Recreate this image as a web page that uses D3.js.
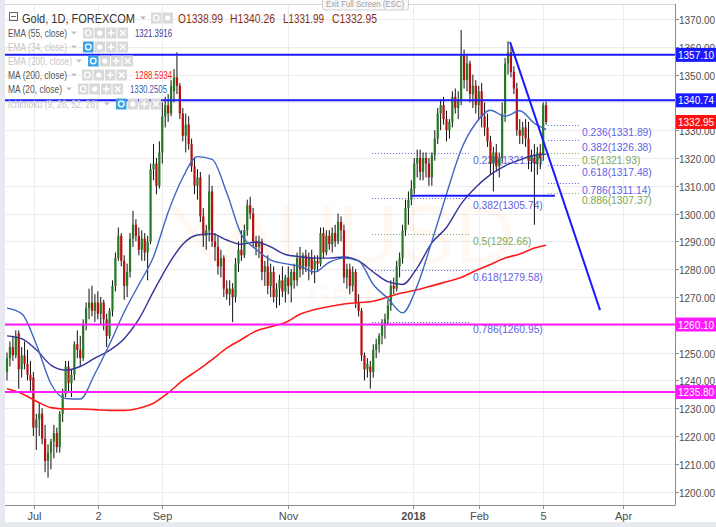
<!DOCTYPE html>
<html><head><meta charset="utf-8">
<script src="https://cdn.jsdelivr.net/npm/d3@7"></script>
<style>
body{margin:0;background:#fff;}
svg{display:block;font-family:"Liberation Sans",Arial,sans-serif;}
</style></head><body><svg id="c" width="716" height="527"></svg>
<script>
// ---------- DATA ----------
const open = [1243,1248,1252,1249,1257,1244,1249,1246,1242,1241,
1223,1226,1228,1219,1211,1214,1218,1221,1216,1228,
1235,1245,1239,1242,1253,1251,1248,1260,1266,1268,
1265,1268,1264,1268,1262,1256,1265,1274,1284,1292,
1283,1274,1279,1291,1296,1292,1287,1291,1286,1290,
1316,1318,1310,1322,1335,1339,1336,1344,1349,1346,
1336,1328,1332,1325,1317,1310,1313,1299,1292,1294,
1308,1290,1288,1281,1284,1273,1271,1273,1270,1282,
1287,1285,1294,1303,1300,1290,1288,1290,1279,1281,
1274,1279,1270,1273,1276,1272,1277,1274,1279,1276,
1284,1280,1285,1281,1284,1280,1283,1282,1293,1286,
1292,1289,1293,1290,1297,1294,1277,1280,1274,1279,
1268,1265,1249,1244,1245,1243,1251,1253,1256,1260,
1262,1267,1274,1273,1281,1284,1294,1302,1305,1309,
1318,1320,1315,1320,1318,1313,1321,1327,1336,1339,
1334,1330,1333,1342,1338,1341,1357,1348,1354,1343,
1346,1339,1344,1335,1331,1326,1318,1322,1317,1320,
1336,1354,1358,1351,1345,1330,1328,1331,1327,1319,
1320,1318,1322,1321,1338.99];
const high = [1250,1254,1256,1258,1258,1252,1254,1251,1247,1243,
1228,1232,1230,1224,1217,1219,1224,1223,1229,1237,
1247,1247,1244,1254,1258,1256,1262,1268,1273,1274,
1271,1272,1270,1269,1264,1266,1276,1286,1295,1293,
1285,1282,1293,1301,1298,1295,1294,1293,1292,1318,
1325,1320,1326,1340,1342,1343,1348,1352,1358,1347,
1338,1336,1335,1327,1320,1316,1315,1302,1296,1314,
1310,1293,1292,1287,1285,1276,1276,1275,1284,1290,
1294,1296,1305,1306,1302,1292,1292,1291,1283,1285,
1282,1281,1275,1278,1281,1278,1281,1280,1282,1286,
1288,1286,1287,1286,1287,1285,1285,1295,1295,1294,
1294,1295,1296,1300,1299,1296,1282,1282,1281,1280,
1271,1266,1250,1248,1247,1253,1255,1257,1262,1264,
1269,1276,1277,1283,1286,1296,1305,1308,1312,1320,
1323,1323,1322,1322,1320,1322,1330,1338,1341,1342,
1337,1334,1344,1345,1344,1366,1359,1357,1355,1350,
1348,1346,1347,1340,1336,1328,1324,1325,1322,1340,
1356,1362,1360,1353,1347,1334,1333,1334,1333,1323,
1325,1324,1325,1340,1340.26];
const low = [1240,1245,1247,1248,1237,1241,1244,1240,1236,1220,
1215,1220,1217,1207,1205,1208,1212,1214,1214,1225,
1234,1236,1234,1240,1248,1245,1247,1258,1262,1263,
1261,1262,1260,1258,1252,1255,1263,1272,1283,1281,
1269,1270,1277,1288,1290,1285,1283,1283,1276,1289,
1312,1307,1309,1318,1331,1333,1335,1340,1343,1334,
1326,1322,1323,1315,1307,1305,1297,1288,1287,1290,
1288,1283,1278,1277,1270,1269,1267,1261,1268,1279,
1283,1284,1292,1298,1288,1285,1284,1276,1274,1271,
1270,1268,1266,1267,1270,1268,1271,1268,1273,1274,
1277,1278,1279,1276,1278,1275,1279,1281,1284,1285,
1287,1286,1288,1289,1290,1275,1273,1271,1272,1266,
1263,1247,1240,1241,1237,1241,1248,1250,1253,1255,
1260,1265,1271,1272,1277,1282,1292,1296,1303,1307,
1313,1312,1312,1313,1310,1310,1319,1325,1330,1332,
1326,1327,1331,1336,1334,1339,1345,1344,1340,1338,
1336,1334,1331,1328,1324,1314,1308,1315,1313,1318,
1333,1350,1349,1343,1328,1325,1325,1324,1316,1315,
1296,1314,1316,1319,1331.99];
const close = [1248,1252,1249,1256,1244,1249,1246,1242,1240,1223,
1226,1228,1219,1211,1214,1218,1221,1216,1228,1235,
1245,1239,1242,1253,1251,1248,1260,1266,1268,1265,
1268,1264,1268,1262,1256,1265,1274,1284,1292,1283,
1274,1279,1291,1296,1292,1287,1291,1286,1290,1316,
1318,1310,1322,1335,1339,1336,1346,1349,1346,1336,
1328,1332,1325,1317,1310,1313,1299,1292,1294,1308,
1290,1288,1281,1284,1273,1271,1273,1270,1282,1287,
1285,1294,1303,1300,1290,1288,1290,1279,1281,1274,
1279,1270,1273,1276,1272,1277,1274,1279,1276,1284,
1280,1285,1281,1284,1280,1283,1282,1293,1286,1292,
1289,1293,1290,1297,1294,1277,1280,1274,1279,1268,
1265,1249,1244,1246,1243,1251,1253,1256,1260,1262,
1267,1274,1273,1281,1284,1294,1302,1305,1309,1318,
1320,1315,1320,1318,1313,1321,1327,1336,1339,1334,
1330,1333,1342,1338,1341,1357,1348,1354,1343,1346,
1339,1344,1335,1331,1326,1318,1322,1317,1320,1336,
1354,1358,1351,1345,1330,1328,1331,1327,1319,1321,
1318,1322,1320,1339,1332.95];

const maIndex = [0,5,10,15,20,25,30,35,40,45,50,55,60,65,70,75,80,85,90,95,100,105,110,115,120,125,130,135,140,145,150,155,160,165,170,175,180,184];
const ma20  = [1266,1264,1253,1238.8,1233.5,1233.3,1242.4,1253,1264.6,1274.5,1284.5,1300.5,1313,1320.5,1319.5,1307.5,1292.5,1287.2,1283.3,1282,1281,1279,1282.5,1284,1283,1274.5,1269.5,1264.3,1274,1290,1307,1323,1332.5,1337.2,1335,1337,1332.5,1330.25];
const ema55 = [1256,1255,1251,1245.5,1243.7,1245,1248,1250.8,1255,1262,1272,1281.5,1289,1292.3,1292.7,1290.5,1289,1289.8,1288,1285.3,1284.5,1284,1284,1284.4,1283,1279,1275.5,1274.5,1280.5,1289.5,1295,1303.5,1309.5,1314,1317.2,1319.3,1321,1321.4];
const ma200 = [1237,1235.3,1232.5,1230.2,1229.7,1229.7,1229.5,1229.2,1229.2,1230,1231.8,1235.5,1240,1243.6,1247.5,1251.6,1254.7,1257.8,1259.3,1260.8,1263.8,1265.5,1266.6,1267.5,1268,1268.5,1270,1271.5,1272.6,1274,1275.5,1277,1279.5,1281.7,1284,1285.5,1287.6,1288.6];

const priceTicks = [1200,1210,1220,1230,1240,1250,1260,1270,1280,1290,1300,1310,1320,1330,1340,1350,1360,1370];
const dateLabels = ["Jul","2","Sep","Nov","2018","Feb","5","Apr"];
const dateIndex  = [9.2,31.1,52.9,95.9,138.6,161.1,182.9,210.2];

const levelPrices = [1357.10,1340.74,1260.10,1235.80];
const levelNames  = ["1357.10","1340.74","1260.10","1235.80"];
const lastPrice = 1332.95;

const fibAName  = ["0.236","0.382","0.5","0.618","0.786"];
const fibAPrice = [1321.92,1305.74,1292.66,1279.58,1260.95];
const fibARange = [124.6,158];
const fibBName  = ["0.236","0.382","0.5","0.618","0.786","0.886"];
const fibBPrice = [1331.89,1326.38,1321.93,1317.48,1311.14,1307.37];
const fibBRange = [184.6,195.2];

const trendIdx = [171.7,202.4], trendPrice = [1361.7,1265.3];
const supportIdx = [138.2,187], supportPrice = [1306.4,1306.4];

// ---------- STYLE ----------
const BLUE="#1a1aff", MAG="#ff1aff", GREEN_C="#267a26", RED_C="#b80f0f";
const FIB_BLUE="#5f5fe6", FIB_GREEN="#7aa95a";

const svg = d3.select("#c");
const x = d3.scaleLinear().domain([0,228]).range([7,675.04]);
const y = d3.scaleLinear().domain([1200,1370]).range([491.6,19]);
const L=5,R=675,T=4,B=505;

svg.append("rect").attr("width",716).attr("height",527).attr("fill","#fff");
svg.append("rect").attr("x",0).attr("y",0).attr("width",L).attr("height",527).attr("fill","#e6eaee");
svg.append("rect").attr("x",0).attr("y",522).attr("width",716).attr("height",5).attr("fill","#e6eaee");
svg.append("defs").append("clipPath").attr("id","pc").append("rect").attr("x",L).attr("y",T).attr("width",R-L).attr("height",B-T);

// grid
const grid = svg.append("g").attr("stroke","#ececec").attr("stroke-width",1);
priceTicks.forEach(p=>grid.append("line").attr("x1",L).attr("x2",R).attr("y1",Math.round(y(p))+0.5).attr("y2",Math.round(y(p))+0.5));
dateIndex.forEach(d=>grid.append("line").attr("x1",Math.round(x(d))+0.5).attr("x2",Math.round(x(d))+0.5).attr("y1",T).attr("y2",B));
svg.append("line").attr("x1",L).attr("x2",R).attr("y1",4.5).attr("y2",4.5).attr("stroke","#d8d8d8");

const plot = svg.append("g").attr("clip-path","url(#pc)");

// watermark
plot.append("text").attr("x",340).attr("y",263).attr("text-anchor","middle").attr("font-size",84)
  .attr("fill","#ff9a5a").attr("fill-opacity",0.07).text("XAUUSD");
plot.append("text").attr("x",340).attr("y",305).attr("text-anchor","middle").attr("font-size",30)
  .attr("fill","#ff9a5a").attr("fill-opacity",0.07).text("Gold");

// fib sets
function fibSet(names, prices, range){
  const g = plot.append("g");
  names.forEach((n,k)=>{
    const c = (n==="0.5"||n==="0.886") ? FIB_GREEN : FIB_BLUE;
    const yy = Math.round(y(prices[k]))+0.5;
    g.append("line").attr("x1",x(range[0])).attr("x2",x(range[1])).attr("y1",yy).attr("y2",yy)
      .attr("stroke",c).attr("stroke-width",1).attr("stroke-dasharray","1,2");
    g.append("text").attr("x",x(range[1])+3).attr("y",yy+10).attr("font-size",10.3).attr("fill",c)
      .text(n+"("+prices[k].toFixed(2)+")");
  });
}
fibSet(fibAName,fibAPrice,fibARange);
fibSet(fibBName,fibBPrice,fibBRange);

// candles
const bars = close.map((c,i)=>({i,o:open[i],h:high[i],l:low[i],c}));
const cg = plot.append("g");
cg.selectAll("line.w").data(bars).join("line").attr("class","w")
  .attr("x1",d=>x(d.i)).attr("x2",d=>x(d.i)).attr("y1",d=>y(d.h)).attr("y2",d=>y(d.l))
  .attr("stroke","#111").attr("stroke-width",1);
cg.selectAll("rect").data(bars).join("rect")
  .attr("x",d=>x(d.i)-1.1).attr("width",2.2)
  .attr("y",d=>y(Math.max(d.o,d.c))).attr("height",d=>Math.max(1,Math.abs(y(d.o)-y(d.c))))
  .attr("fill",d=>d.c>=d.o?GREEN_C:RED_C);

// moving averages
const line = d3.line().x(d=>x(d[0])).y(d=>y(d[1])).curve(d3.curveMonotoneX);
function maLine(vals,color,w){
  plot.append("path").attr("d",line(maIndex.map((k,j)=>[k,vals[j]]))).attr("fill","none")
    .attr("stroke",color).attr("stroke-width",w);
}
maLine(ma200,"#ff1a1a",1.6);
maLine(ema55,"#33339a",1.4);
maLine(ma20,"#3f67c2",1.4);

// horizontal levels
levelPrices.forEach((p,k)=>{
  plot.append("line").attr("x1",L).attr("x2",R).attr("y1",y(p)).attr("y2",y(p))
    .attr("stroke",k<2?BLUE:MAG).attr("stroke-width",2);
});
// trend line & support
plot.append("line").attr("x1",x(trendIdx[0])).attr("y1",y(trendPrice[0])).attr("x2",x(trendIdx[1])).attr("y2",y(trendPrice[1]))
  .attr("stroke",BLUE).attr("stroke-width",2);
plot.append("line").attr("x1",x(supportIdx[0])).attr("y1",y(supportPrice[0])).attr("x2",x(supportIdx[1])).attr("y2",y(supportPrice[1]))
  .attr("stroke",BLUE).attr("stroke-width",2);

// axes
svg.append("line").attr("x1",R+0.5).attr("x2",R+0.5).attr("y1",T).attr("y2",B).attr("stroke","#8a8a8a");
svg.append("line").attr("x1",L).attr("x2",R+0.5).attr("y1",B+0.5).attr("y2",B+0.5).attr("stroke","#8a8a8a");
const ya = svg.append("g");
priceTicks.forEach(p=>{
  const yy=Math.round(y(p))+0.5;
  ya.append("line").attr("x1",R).attr("x2",R+4).attr("y1",yy).attr("y2",yy).attr("stroke","#8a8a8a");
  ya.append("text").attr("x",679).attr("y",yy+4).attr("font-size",10).attr("fill","#4d4d4d").text(p.toFixed(2));
});
dateLabels.forEach((t,k)=>{
  const xx=Math.round(x(dateIndex[k]))+0.5;
  svg.append("line").attr("x1",xx).attr("x2",xx).attr("y1",B).attr("y2",B+4).attr("stroke","#8a8a8a");
  svg.append("text").attr("x",xx).attr("y",520).attr("text-anchor","middle").attr("font-size",11)
    .attr("fill","#4d4d4d").attr("font-weight",t==="2018"?"bold":"normal").text(t);
});
function tag(p,txt,color){
  const yy=y(p);
  svg.append("rect").attr("x",R+1).attr("y",yy-7).attr("width",716-R).attr("height",14).attr("fill",color);
  svg.append("text").attr("x",678).attr("y",yy+4).attr("font-size",10).attr("fill","#fff").text(txt);
}
tag(levelPrices[0],levelNames[0],BLUE);
tag(levelPrices[1],levelNames[1],BLUE);
tag(lastPrice,lastPrice.toFixed(2),"#ff1010");
tag(levelPrices[2],levelNames[2],MAG);
tag(levelPrices[3],levelNames[3],MAG);

// legend
const lg = svg.append("g");
function icons(x0,yc,n,blueFirst){
  for(let k=0;k<n;k++){
    const xx=x0+k*11.5;
    lg.append("rect").attr("x",xx).attr("y",yc-5.5).attr("width",10.5).attr("height",11)
      .attr("fill",(blueFirst&&k===0)?"#3ba3e6":"#d9d9d9");
    if(k===0){ lg.append("circle").attr("cx",xx+5.25).attr("cy",yc).attr("r",2.8).attr("fill","none").attr("stroke","#fff").attr("stroke-width",1.3); }
    else if(k===1){ lg.append("circle").attr("cx",xx+5.25).attr("cy",yc).attr("r",2.6).attr("fill","#fff"); }
    else if(k===2){ lg.append("path").attr("d",`M${xx+5.25},${yc-3.5}V${yc+3.5}M${xx+1.75},${yc}H${xx+8.75}`).attr("stroke","#fff").attr("stroke-width",1.5); }
    else { lg.append("path").attr("d",`M${xx+2.5},${yc-2.8}L${xx+8},${yc+2.8}M${xx+8},${yc-2.8}L${xx+2.5},${yc+2.8}`).attr("stroke","#fff").attr("stroke-width",1.5); }
  }
}
function caret(xx,yc,c){ lg.append("path").attr("d",`M${xx},${yc-1.5}L${xx+6},${yc-1.5}L${xx+3},${yc+1.5}Z`).attr("fill",c); }
function txt(xx,yy,size,color,len,t){
  lg.append("text").attr("x",xx).attr("y",yy).attr("font-size",size).attr("fill",color)
    .attr("textLength",len).attr("lengthAdjust","spacingAndGlyphs").text(t);
}
// title row
lg.append("rect").attr("x",9.5).attr("y",12.5).attr("width",8).attr("height",8).attr("fill","none").attr("stroke","#666");
lg.append("line").attr("x1",11).attr("x2",16).attr("y1",16.5).attr("y2",16.5).attr("stroke","#666");
txt(22,22.5,13.5,"#333",113,"Gold, 1D, FOREXCOM");
caret(140,18,"#b5b5b5");
icons(151,18,2,false);
const ohlcT=["O1338.99","H1340.26","L1331.99","C1332.95"], ohlcX=[178,230,283,332], ohlcW=[45,45,41,45];
ohlcT.forEach((t,k)=>txt(ohlcX[k],22.5,13,"#8a2e12",ohlcW[k],t));
// indicator rows
const rows=[
 {t:"EMA (55, close)",w:59,y:33,c:"#555",cx:71,ix:83,v:"1321.3916",vc:"#3a3a9c",vx:135,b:false},
 {t:"EMA (34, close)",w:59,y:47,c:"#c6c6c6",cx:71,ix:83,v:null,b:true},
 {t:"EMA (200, close)",w:64,y:61,c:"#c6c6c6",cx:76,ix:88,v:null,b:true},
 {t:"MA (200, close)",w:59,y:75,c:"#555",cx:71,ix:82,v:"1288.5934",vc:"#ff2020",vx:135,b:false},
 {t:"MA (20, close)",w:54,y:89,c:"#555",cx:66,ix:78,v:"1330.2505",vc:"#3c5cb8",vx:130,b:false},
 {t:"Ichimoku (9, 26, 52, 26)",w:90,y:104,c:"#c6c6c6",cx:104,ix:116,v:null,b:true}
];
rows.forEach(r=>{
  txt(8,r.y+4,11,r.c,r.w,r.t);
  caret(r.cx,r.y,"#c0c0c0");
  icons(r.ix,r.y,4,r.b);
  if(r.v) txt(r.vx,r.y+4,11,r.vc,37,r.v);
});

// tooltip
svg.append("rect").attr("x",322.5).attr("y",-3).attr("width",86).attr("height",13).attr("rx",2).attr("fill","#f8f8f8").attr("stroke","#d0d0d0");
svg.append("text").attr("x",326).attr("y",7).attr("font-size",9).attr("fill","#a0a0a0")
  .attr("textLength",78).attr("lengthAdjust","spacingAndGlyphs").text("Exit Full Screen (ESC)");
</script></body></html>
